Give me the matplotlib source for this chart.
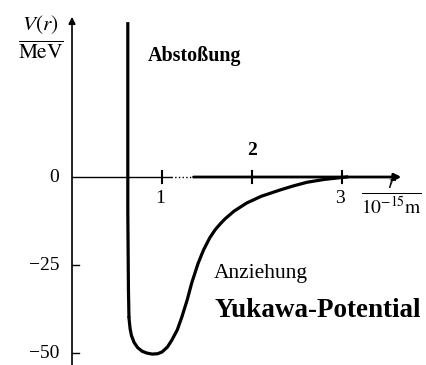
import matplotlib
matplotlib.use('Agg')
import matplotlib.pyplot as plt

# Yukawa-Potential
r_wall = [0.62, 0.62, 0.627, 0.633]
V_wall = [44.0, -10.0, -32.0, -40.0]

r_curve = [0.633, 0.645, 0.66, 0.69, 0.73, 0.78, 0.83, 0.89, 0.95, 1.0, 1.06, 1.11,
           1.17, 1.22, 1.28, 1.33, 1.40, 1.46, 1.53, 1.59, 1.644, 1.70, 1.80, 1.94,
           2.1, 2.31, 2.45, 2.61, 2.8, 2.94, 3.05]
V_curve = [-40.0, -43.0, -45.0, -47.0, -48.5, -49.5, -50.0, -50.3, -50.2, -49.7, -48.3, -46.3,
           -43.4, -39.8, -34.9, -30.1, -24.6, -20.8, -17.3, -15.0, -13.4, -11.9, -9.7, -7.4,
           -5.5, -3.7, -2.6, -1.5, -0.7, -0.3, 0.0]

y_ticks = [0, -25, -50]
y_tick_labels = ['0', '\u221225', '\u221250']
x_ticks = [1, 2, 3]
x_tick_labels = ['1', '2', '3']

plt.rcParams['mathtext.fontset'] = 'stix'
plt.rcParams['font.family'] = ['Liberation Serif', 'DejaVu Serif']

fig = plt.figure(figsize=(4.26, 3.65), dpi=100)
ax = fig.add_axes([0, 0, 1, 1])
ax.set_xlim(-0.8, 3.933)
ax.set_ylim(-53.4, 50.28)
ax.axis('off')

# Achsen mit Pfeilen
ax.annotate('', xy=(0, 45.5), xytext=(0, -53.4),
            arrowprops=dict(arrowstyle='-|>', lw=1.2, color='black',
                            mutation_scale=10, shrinkA=0, shrinkB=0))
ax.plot([0, 1.1], [0, 0], color='black', lw=1.0)
ax.plot([1.1, 1.35], [0, 0], color='black', lw=1.0, ls=':')
ax.annotate('', xy=(3.66, 0), xytext=(1.35, 0),
            arrowprops=dict(arrowstyle='-|>', lw=2.0, color='black',
                            mutation_scale=10, shrinkA=0, shrinkB=0))

# Ticks
for yt, lab in zip(y_ticks, y_tick_labels):
    if yt != 0:
        ax.plot([0, 0.08], [yt, yt], color='black', lw=1.0)
    ax.text(-0.14, yt, lab, ha='right', va='center', fontsize=14)
for xt, lab in zip(x_ticks, x_tick_labels):
    ax.plot([xt, xt], [-1.8, 1.8], color='black', lw=1.5)
    if xt == 2:
        ax.text(xt, 5.2, lab, ha='center', va='bottom', fontsize=14, fontweight='bold')
    else:
        ax.text(xt - 0.02, -3.6, lab, ha='center', va='top', fontsize=14)

# Potentialkurve
ax.plot(r_wall, V_wall, color='black', lw=2.3, solid_capstyle='butt')
ax.plot(r_curve, V_curve, color='black', lw=2.3, solid_joinstyle='round')

# Achsenbeschriftungen
ax.text(-0.35, 39.5, r'$\frac{V(r)}{\mathrm{MeV}}$', ha='center', va='center', fontsize=22)
ax.text(3.55, -5.5, r'$\frac{r}{10^{-15}\mathrm{m}}$', ha='center', va='center', fontsize=20)

ax.text(0.84, 34.5, 'Abstoßung', ha='left', va='center', fontsize=14.4, fontweight='bold')
ax.text(1.57, -27.5, 'Anziehung', ha='left', va='center', fontsize=15.5)
ax.text(1.58, -37.9, 'Yukawa-Potential', ha='left', va='center', fontsize=19.5,
        fontweight='bold')

fig.savefig('out.png', dpi=100)
